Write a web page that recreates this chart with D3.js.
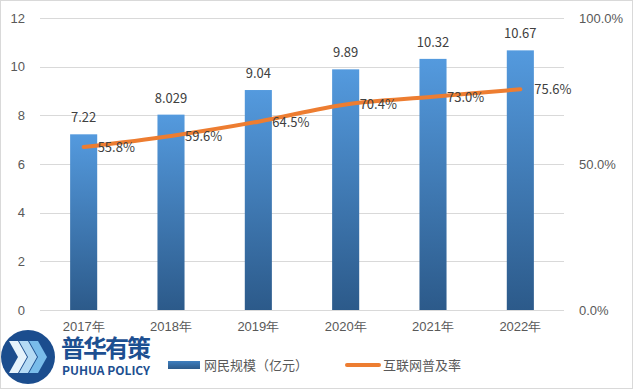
<!DOCTYPE html>
<html><head><meta charset="utf-8">
<script src="https://cdn.jsdelivr.net/npm/d3@7/dist/d3.min.js"></script>
<style>body{margin:0;background:#fff;}svg{display:block;font-family:"Microsoft YaHei","Noto Sans CJK SC","DejaVu Sans",sans-serif;}</style>
</head><body>
<svg id="c" width="634" height="390"></svg>
<script>
const categories = ["2017年","2018年","2019年","2020年","2021年","2022年"];
const barValues = [7.22, 8.029, 9.04, 9.89, 10.32, 10.67];
const barLabels = ["7.22","8.029","9.04","9.89","10.32","10.67"];
const rateValues = [0.558, 0.596, 0.645, 0.704, 0.730, 0.756];
const leftTicks = [0,2,4,6,8,10,12];
const rightTicks = [0, 0.5, 1.0];
const seriesNames = ["网民规模（亿元）","互联网普及率"];

(function(){
const svg = d3.select("#c");
const W=634,H=390;
const pL=40,pR=564,pT=18,pB=310;
const textColor="#595959";

svg.append("rect").attr("x",0.5).attr("y",0.5).attr("width",W-2).attr("height",H-2).attr("fill","#fff").attr("stroke","#d9d9d9");

const defs=svg.append("defs");
const g1=defs.append("linearGradient").attr("id","barg").attr("x1",0).attr("y1",0).attr("x2",0).attr("y2",1);
g1.append("stop").attr("offset","0%").attr("stop-color","#549ade");
g1.append("stop").attr("offset","100%").attr("stop-color","#2c5a8a");
const g2=defs.append("linearGradient").attr("id","legg").attr("x1",0).attr("y1",0).attr("x2",0).attr("y2",1);
g2.append("stop").attr("offset","0%").attr("stop-color","#3f7fbf");
g2.append("stop").attr("offset","100%").attr("stop-color","#2c5a8a");

const x=d3.scaleBand().domain(categories).range([pL,pR]).paddingInner(0.69).paddingOuter(0.345);
const y=d3.scaleLinear().domain([0,12]).range([pB,pT]);
const y2=d3.scaleLinear().domain([0,1]).range([pB,pT]);

svg.append("g").selectAll("line").data(leftTicks).join("line")
  .attr("x1",pL).attr("x2",pR).attr("y1",d=>Math.round(y(d))+0.5).attr("y2",d=>Math.round(y(d))+0.5)
  .attr("stroke","#d9d9d9").attr("stroke-width",1);

const ax=d3.axisLeft(y).tickValues(leftTicks).tickSize(0).tickPadding(0).tickFormat(d3.format("d"));
const gl=svg.append("g").attr("transform",`translate(${pL-15},0)`).call(ax);
gl.select(".domain").remove();
gl.selectAll("text").attr("fill",textColor).style("font-size","13px").attr("text-anchor","end");

const ar=d3.axisRight(y2).tickValues(rightTicks).tickSize(0).tickPadding(0).tickFormat(d3.format(".1%"));
const gr=svg.append("g").attr("transform",`translate(${pR+15},0)`).call(ar);
gr.select(".domain").remove();
gr.selectAll("text").attr("fill",textColor).style("font-size","13px");

const axb=d3.axisBottom(x).tickSize(0).tickPadding(0);
const gb=svg.append("g").attr("transform",`translate(0,${pB+12})`).call(axb);
gb.select(".domain").remove();
gb.selectAll("text").attr("fill",textColor).style("font-size","13px");

svg.append("g").selectAll("rect").data(barValues).join("rect")
  .attr("x",(d,i)=>x(categories[i])).attr("width",x.bandwidth())
  .attr("y",d=>y(d)).attr("height",d=>pB-y(d)).attr("fill","url(#barg)");

svg.append("g").selectAll("text").data(barValues).join("text")
  .attr("x",(d,i)=>x(categories[i])+x.bandwidth()/2).attr("y",d=>y(d)-12)
  .attr("text-anchor","middle").attr("fill","#404040").style("font-size","13px")
  .text((d,i)=>barLabels[i]);

const line=d3.line().x((d,i)=>x(categories[i])+x.bandwidth()/2).y(d=>y2(d)).curve(d3.curveMonotoneX);
svg.append("path").datum(rateValues).attr("d",line).attr("fill","none")
  .attr("stroke","#ed7d31").attr("stroke-width",4).attr("stroke-linecap","round");

svg.append("g").selectAll("text").data(rateValues).join("text")
  .attr("x",(d,i)=>x(categories[i])+x.bandwidth()/2+14).attr("y",d=>y2(d)+5)
  .attr("fill","#404040").style("font-size","13px")
  .text(d=>d3.format(".1%")(d));

const lg=svg.append("g");
lg.append("rect").attr("x",168).attr("y",361).attr("width",32).attr("height",8).attr("fill","url(#legg)");
lg.append("text").attr("x",204).attr("y",370).attr("fill",textColor).style("font-size","13px").text(seriesNames[0]);
lg.append("line").attr("x1",347).attr("x2",379).attr("y1",365).attr("y2",365).attr("stroke","#ed7d31").attr("stroke-width",4).attr("stroke-linecap","round");
lg.append("text").attr("x",383).attr("y",370).attr("fill",textColor).style("font-size","13px").text(seriesNames[1]);

const logo=svg.append("g");
logo.append("circle").attr("cx",28).attr("cy",357).attr("r",27).attr("fill","#1b4d8e");
const chev=(ox,col)=>logo.append("path")
  .attr("d",`M${ox},341 L${ox+9},341 L${ox+18},357 L${ox+9},373 L${ox},373 L${ox+9},357 Z`)
  .attr("fill",col);
chev(9,"#e6f3fc"); chev(19,"#b4daf4"); chev(29,"#79bcea");
logo.append("text").attr("x",61).attr("y",357).attr("fill","#1d4f91").style("font-size","24px").style("font-weight","bold").attr("textLength",90).text("普华有策");
logo.append("text").attr("x",62).attr("y",375).attr("fill","#1d4f91").style("font-size","12px").style("font-weight","bold").attr("textLength",88).text("PUHUA POLICY");
})();
</script>
</body></html>
